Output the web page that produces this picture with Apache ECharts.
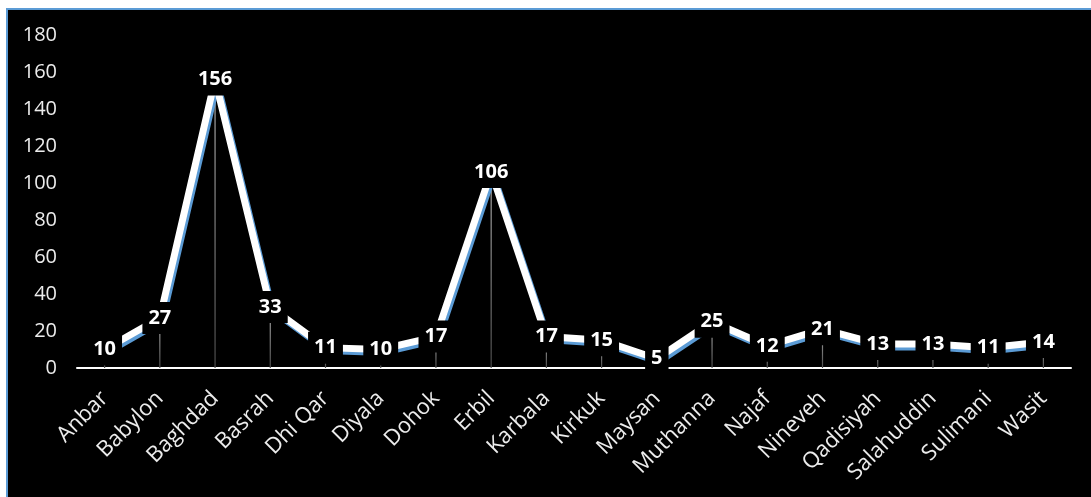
<!DOCTYPE html>
<html>
<head>
<meta charset="utf-8">
<script src="https://cdn.jsdelivr.net/npm/echarts@6/dist/echarts.min.js"></script>
<style>
html,body{margin:0;padding:0;background:#fff;}
#c{width:1091px;height:497px;}
</style>
</head>
<body>
<div id="c"></div>
<script>
const categories = ["Anbar","Babylon","Baghdad","Basrah","Dhi Qar","Diyala","Dohok","Erbil","Karbala","Kirkuk","Maysan","Muthanna","Najaf","Nineveh","Qadisiyah","Salahuddin","Sulimani","Wasit"];
const values = [10,27,156,33,11,10,17,106,17,15,5,25,12,21,13,13,11,14];
const yMin = 0, yMax = 180, yStep = 20;

const chart = echarts.init(document.getElementById('c'));
chart.setOption({
  backgroundColor: '#ffffff',
  animation: false,
  graphic: [{
    type: 'rect', z: -10, silent: true,
    shape: {x: 7, y: 9, width: 1200, height: 600},
    style: {fill: '#000000', stroke: '#5b9bd5', lineWidth: 2}
  }],
  grid: {left: 77, right: 20, top: 35, bottom: 129, containLabel: false},
  xAxis: {
    type: 'category',
    data: categories,
    boundaryGap: true,
    axisLine: {show: true, lineStyle: {color: '#ffffff', width: 2}},
    axisTick: {show: false},
    axisLabel: {
      rotate: 45, interval: 0, margin: 27,
      color: '#ececec', fontSize: 22, fontFamily: 'Open Sans'
    },
    splitLine: {show: false}
  },
  yAxis: {
    type: 'value', min: yMin, max: yMax, interval: yStep,
    axisLine: {show: false}, axisTick: {show: false},
    splitLine: {show: false},
    axisLabel: {color: '#ececec', fontSize: 20, fontFamily: 'Open Sans', margin: 20}
  },
  series: [
    {
      type: 'bar', data: values, barWidth: 1.2, z: 1, silent: true,
      itemStyle: {
        color: new echarts.graphic.LinearGradient(0, 0, 0, 1, [
          {offset: 0, color: '#b0b0b0'}, {offset: 1, color: '#4a4a4a'}
        ])
      }
    },
    {
      type: 'line', data: values, z: 3, silent: true,
      symbol: 'circle', symbolSize: 0,
      lineStyle: {
        color: '#ffffff', width: 7, join: 'miter',
        shadowColor: '#5b9bd5', shadowOffsetX: 2, shadowOffsetY: 3, shadowBlur: 0
      },
      label: {
        show: true, position: 'inside',
        color: '#ffffff', fontSize: 20, fontWeight: 'bold', fontFamily: 'Open Sans',
        backgroundColor: '#000000', padding: [6, 6], lineHeight: 20
      }
    }
  ]
});
</script>
</body>
</html>
